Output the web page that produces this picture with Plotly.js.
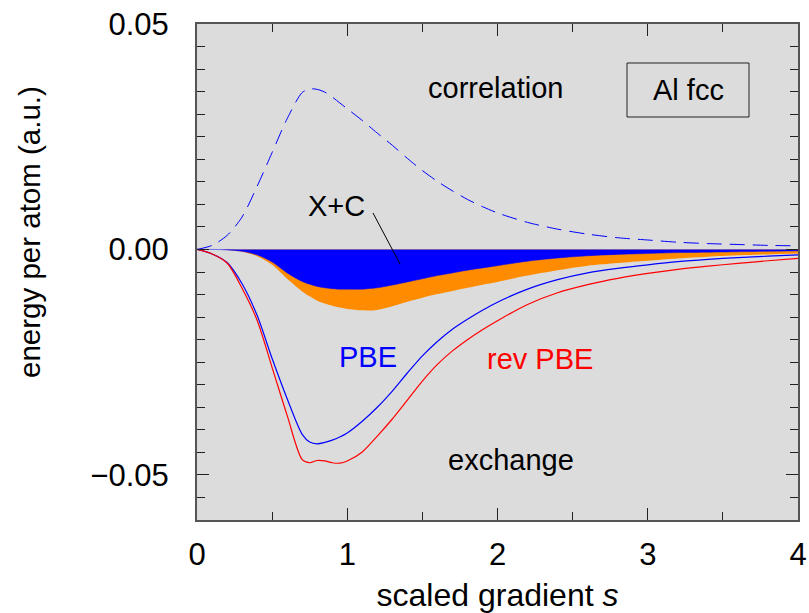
<!DOCTYPE html>
<html>
<head>
<meta charset="utf-8">
<script src="https://cdn.plot.ly/plotly-3.0.1.min.js"></script>
<style>html,body{margin:0;padding:0;background:#fff;}</style>
</head>
<body>
<div id="chart" style="width:809px;height:613px;"></div>
<script>
// scaled gradient s
const s = [0,0.1,0.2,0.3,0.4,0.5,0.6,0.7,0.75,0.8,0.85,0.9,0.95,1.0,1.1,1.2,1.3,1.4,1.5,1.6,1.7,1.8,1.9,2.0,2.2,2.4,2.6,2.8,3.0,3.2,3.4,3.6,3.8,4.0];
// correlation energy (PBE), dashed
const corr = [0,0.0009,0.0031,0.0072,0.0140,0.0215,0.0290,0.0348,0.0356,0.0355,0.0349,0.0338,0.0325,0.0312,0.0286,0.0258,0.0231,0.0202,0.0175,0.0151,0.0130,0.0111,0.0095,0.0081,0.0060,0.0045,0.0034,0.0026,0.0021,0.0016,0.0013,0.0011,0.0009,0.0008];
// exchange energy, PBE
const exPBE = [0,-0.0010,-0.0029,-0.0076,-0.0146,-0.0242,-0.0331,-0.0410,-0.0427,-0.0431,-0.0428,-0.0423,-0.0416,-0.0407,-0.0381,-0.0350,-0.0314,-0.0274,-0.0236,-0.0204,-0.0177,-0.0155,-0.0135,-0.0117,-0.0088,-0.0067,-0.0052,-0.0042,-0.0034,-0.0027,-0.0022,-0.0018,-0.0015,-0.0012];
// exchange energy, revPBE
const exRevPBE = [0,-0.0010,-0.0030,-0.0086,-0.0157,-0.0262,-0.0368,-0.0466,-0.0473,-0.0468,-0.0469,-0.0473,-0.0474,-0.0469,-0.0449,-0.0414,-0.0376,-0.0334,-0.0292,-0.0255,-0.0225,-0.0200,-0.0178,-0.0158,-0.0122,-0.0096,-0.0078,-0.0064,-0.0053,-0.0044,-0.0037,-0.0031,-0.0025,-0.0020];
// exchange + correlation, PBE (blue fill)
const xcPBE = [0,0,-0.0001,-0.0004,-0.0012,-0.0028,-0.0052,-0.0071,-0.0077,-0.0082,-0.0085,-0.0087,-0.0088,-0.0088,-0.0088,-0.0085,-0.0079,-0.0072,-0.0065,-0.0058,-0.0052,-0.0046,-0.0041,-0.0036,-0.0026,-0.0019,-0.0014,-0.0011,-0.0009,-0.0007,-0.0006,-0.0005,-0.0004,-0.0003];
// exchange + correlation, revPBE (orange fill)
const xcRevPBE = [0,0,-0.0001,-0.0005,-0.0015,-0.0034,-0.0065,-0.0093,-0.0104,-0.0114,-0.0120,-0.0125,-0.0129,-0.0132,-0.0135,-0.0134,-0.0126,-0.0116,-0.0107,-0.0099,-0.0092,-0.0085,-0.0078,-0.0072,-0.0058,-0.0046,-0.0036,-0.0030,-0.0025,-0.0020,-0.0016,-0.0013,-0.0011,-0.0009];
// tick labels
const xTickVals = [0,1,2,3,4];
const xTickText = ['0','1','2','3','4'];
const yTickVals = [-0.05,0,0.05];
const yTickText = ['\u22120.05','0.00','0.05'];

const FONT = 'Liberation Sans, Arial, Helvetica, sans-serif';

const traces = [
  {x:s, y:xcRevPBE, type:'scatter', mode:'lines', fill:'tozeroy', fillcolor:'#ff8c00',
   line:{color:'#ff8c00', width:0, shape:'spline', smoothing:0.8}, hoverinfo:'skip'},
  {x:s, y:xcPBE, type:'scatter', mode:'lines', fill:'tozeroy', fillcolor:'#0000ff',
   line:{color:'#0000ff', width:0.5, shape:'spline', smoothing:0.8}, hoverinfo:'skip'},
  {x:s, y:corr, type:'scatter', mode:'lines',
   line:{color:'#0000ff', width:1, dash:'15px,8px', shape:'spline', smoothing:0.8}},
  {x:s, y:exPBE, type:'scatter', mode:'lines',
   line:{color:'#0000ff', width:1.2, shape:'spline', smoothing:0.8}},
  {x:s, y:exRevPBE, type:'scatter', mode:'lines',
   line:{color:'#ff0000', width:1.2, shape:'spline', smoothing:0.8}}
];

function px2x(p){ return (p-197)/601; }
function py2y(p){ return (520-p)/496; }

function label(text, px, py, color, size, angle){
  return {text:text, xref:'paper', yref:'paper', x:px2x(px), y:py2y(py),
          xanchor:'center', yanchor:'middle', showarrow:false, textangle:angle||0,
          font:{family:FONT, size:size||29, color:color||'#000'}};
}

const layout = {
  width:809, height:613,
  margin:{l:197, r:11, t:24, b:93, pad:0},
  paper_bgcolor:'#ffffff', plot_bgcolor:'#dcdcdc',
  showlegend:false,
  font:{family:FONT, color:'#000', size:29},
  xaxis:{
    range:[0,4], tickmode:'array', tickvals:xTickVals, ticktext:xTickText,
    ticks:'inside', ticklen:12, tickwidth:1, tickcolor:'#222',
    minor:{dtick:0.5, tick0:0, ticks:'inside', ticklen:8, tickwidth:1, tickcolor:'#222'},
    showline:true, mirror:'ticks', linecolor:'#555', linewidth:2,
    showgrid:false, zeroline:false,
    tickfont:{family:FONT, size:31, color:'#000'},
    ticklabelstandoff:6,
    title:{text:'scaled gradient <i>s</i>', font:{family:FONT, size:32, color:'#000'}, standoff:14}
  },
  yaxis:{
    range:[-0.06,0.05], tickmode:'array', tickvals:yTickVals, ticktext:yTickText,
    ticks:'inside', ticklen:12, tickwidth:1, tickcolor:'#222',
    minor:{dtick:0.005, tick0:0, ticks:'inside', ticklen:8, tickwidth:1, tickcolor:'#222'},
    showline:true, mirror:'ticks', linecolor:'#555', linewidth:2,
    showgrid:false, zeroline:false,
    tickfont:{family:FONT, size:31, color:'#000'},
    ticklabelstandoff:20
  },
  shapes:[
    {type:'rect', xref:'paper', yref:'paper', x0:px2x(627), x1:px2x(749), y0:py2y(117), y1:py2y(63),
     line:{color:'#222', width:1}, fillcolor:'rgba(0,0,0,0)'},
    {type:'line', xref:'paper', yref:'paper', x0:px2x(373), y0:py2y(213), x1:px2x(400), y1:py2y(264),
     line:{color:'#000', width:1}}
  ],
  annotations:[
    label('energy per atom (a.u.)', 30, 232, '#000', 29.5, -90),
    label('correlation', 495, 88),
    label('Al fcc', 688, 90),
    label('X+C', 336, 206),
    label('PBE', 368, 357, '#0000ff'),
    label('rev PBE', 540, 359, '#ff0000'),
    label('exchange', 511, 460)
  ]
};

Plotly.newPlot('chart', traces, layout, {displayModeBar:false, staticPlot:true});
</script>
</body>
</html>
